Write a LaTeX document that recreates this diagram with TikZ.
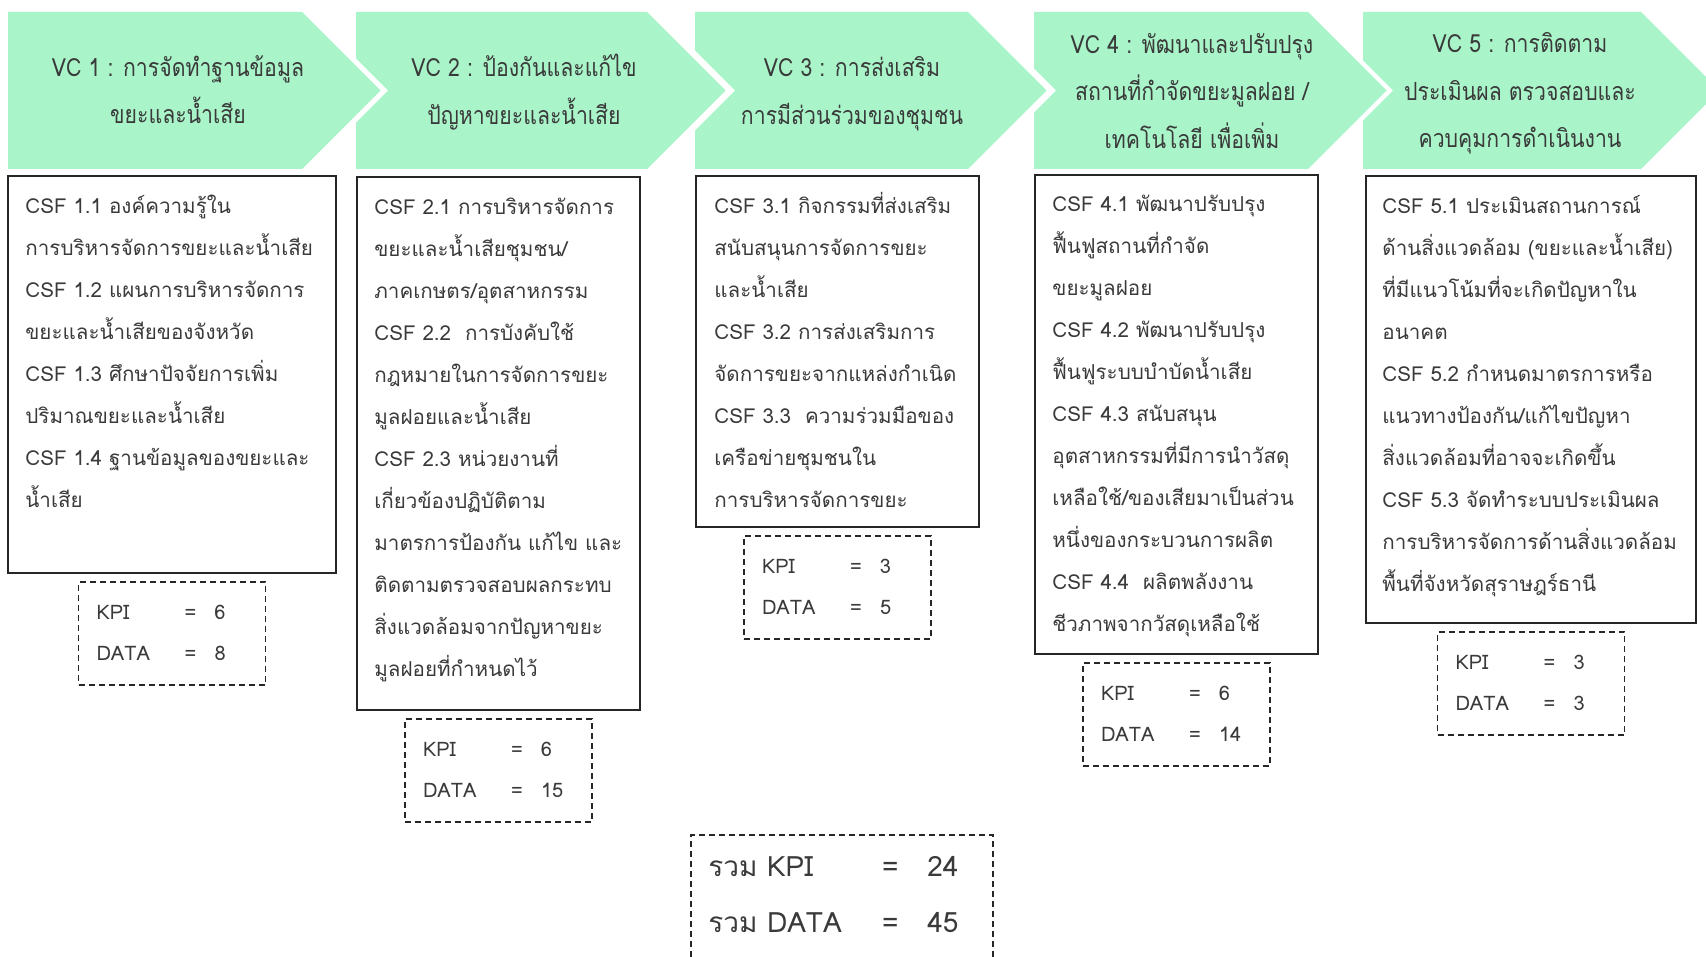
\documentclass[tikz,border=0pt]{standalone}
\usepackage{fontspec}
\setmainfont[Script=Thai]{Loma}
\newfontfamily\vcfont[Script=Thai,FakeStretch=0.85]{Loma}
\usetikzlibrary{positioning}

\definecolor{vcgreen}{HTML}{A9F5C9}
\definecolor{txtgray}{HTML}{3A3A3A}
\definecolor{boxgray}{HTML}{262626}

\newcommand{\kpirow}[2]{\makebox[43pt][l]{#1}\makebox[8pt][c]{=}\hspace{8pt}#2}
\newcommand{\sumrow}[2]{\makebox[86pt][l]{#1}\makebox[10pt][c]{=}\hspace{13.5pt}#2}

\begin{document}
\begin{tikzpicture}[x=0.5pt, y=-0.5pt,
		vcarrow/.style={fill=vcgreen},
		vctext/.style={align=center, text=txtgray, font=\vcfont\fontsize{12.5}{23.75}\selectfont},
		csfbox/.style={draw=boxgray, line width=0.75pt, anchor=north west, inner sep=0pt, outer sep=0pt},
		csftext/.style={align=left, text=txtgray, anchor=north west, inner sep=0pt, font=\fontsize{10.3}{21}\selectfont},
		kpibox/.style={draw=boxgray, line width=0.75pt, dash pattern=on 3pt off 2pt, minimum width=93.5pt, minimum height=51.5pt, inner xsep=9pt, text width=75.5pt, align=left, text=txtgray, font=\fontsize{10}{20.5}\selectfont},
		sumtext/.style={align=left, text=txtgray, inner sep=0pt, font=\fontsize{14}{28}\selectfont}]

					\clip (0,0) rectangle (1706,957);

					\fill[vcarrow] (8,12) -- (302,12) -- (380.5,90.5) -- (302,169) -- (8,169) -- cycle;
					\fill[vcarrow] (356,12) -- (647,12) -- (725.5,90.5) -- (647,169) -- (356,169) -- (356,122.5) -- (388,90.5) -- (356,58.5) -- cycle;
					\fill[vcarrow] (695,12) -- (968,12) -- (1046.5,90.5) -- (968,169) -- (695,169) -- (695,130.5) -- (735,90.5) -- (695,50.5) -- cycle;
					\fill[vcarrow] (1034,12) -- (1308,12) -- (1386.5,90.5) -- (1308,169) -- (1034,169) -- (1034,112.5) -- (1056,90.5) -- (1034,68.5) -- cycle;
					\fill[vcarrow] (1363,12) -- (1641,12) -- (1719.5,90.5) -- (1641,169) -- (1363,169) -- (1363,120.5) -- (1393,90.5) -- (1363,60.5) -- cycle;

					\node[vctext] (vc1) at (178,89.5) {VC 1 : การจัดทำฐานข้อมูล\\ขยะและน้ำเสีย};
					\node[vctext] (vc2) at (524,92) {VC 2 : ป้องกันและแก้ไข\\ปัญหาขยะและน้ำเสีย};
					\node[vctext] (vc3) at (852,93.5) {VC 3 : การส่งเสริม\\การมีส่วนร่วมของชุมชน};
					\node[vctext] (vc4) at (1192,91) {VC 4 : พัฒนาและปรับปรุง\\สถานที่กำจัดขยะมูลฝอย /\\เทคโนโลยี เพื่อเพิ่ม};
					\node[vctext] (vc5) at (1520,93.5) {VC 5 : การติดตาม\\ประเมินผล ตรวจสอบและ\\ควบคุมการดำเนินงาน};

					\node[csfbox, minimum width=164pt, minimum height=198.5pt] (csf1) at (8,176) {};
					\node[csfbox, minimum width=141.5pt, minimum height=266.5pt] (csf2) at (357,177) {};
					\node[csfbox, minimum width=141.5pt, minimum height=175.5pt] (csf3) at (696,176) {};
					\node[csfbox, minimum width=141.5pt, minimum height=239.5pt] (csf4) at (1035,175) {};
					\node[csfbox, minimum width=165pt, minimum height=223.5pt] (csf5) at (1366,176) {};

					\node[csftext] (csf1txt) at (25,183.6) {\strut CSF 1.1 องค์ความรู้ใน\\การบริหารจัดการขยะและน้ำเสีย\\CSF 1.2 แผนการบริหารจัดการ\\ขยะและน้ำเสียของจังหวัด\\CSF 1.3 ศึกษาปัจจัยการเพิ่ม\\ปริมาณขยะและน้ำเสีย\\CSF 1.4 ฐานข้อมูลของขยะและ\\น้ำเสีย};
					\node[csftext] (csf2txt) at (374,184.6) {\strut CSF 2.1 การบริหารจัดการ\\ขยะและน้ำเสียชุมชน/\\ภาคเกษตร/อุตสาหกรรม\\CSF 2.2\ \ การบังคับใช้\\กฎหมายในการจัดการขยะ\\มูลฝอยและน้ำเสีย\\CSF 2.3 หน่วยงานที่\\เกี่ยวข้องปฏิบัติตาม\\มาตรการป้องกัน แก้ไข และ\\ติดตามตรวจสอบผลกระทบ\\สิ่งแวดล้อมจากปัญหาขยะ\\มูลฝอยที่กำหนดไว้};
					\node[csftext] (csf3txt) at (714,183.6) {\strut CSF 3.1 กิจกรรมที่ส่งเสริม\\สนับสนุนการจัดการขยะ\\และน้ำเสีย\\CSF 3.2 การส่งเสริมการ\\จัดการขยะจากแหล่งกำเนิด\\CSF 3.3\ \ ความร่วมมือของ\\เครือข่ายชุมชนใน\\การบริหารจัดการขยะ};
					\node[csftext] (csf4txt) at (1052,181.6) {\strut CSF 4.1 พัฒนาปรับปรุง\\ฟื้นฟูสถานที่กำจัด\\ขยะมูลฝอย\\CSF 4.2 พัฒนาปรับปรุง\\ฟื้นฟูระบบบำบัดน้ำเสีย\\CSF 4.3 สนับสนุน\\อุตสาหกรรมที่มีการนำวัสดุ\\เหลือใช้/ของเสียมาเป็นส่วน\\หนึ่งของกระบวนการผลิต\\CSF 4.4\ \ ผลิตพลังงาน\\ชีวภาพจากวัสดุเหลือใช้};
					\node[csftext] (csf5txt) at (1382,183.6) {\strut CSF 5.1 ประเมินสถานการณ์\\ด้านสิ่งแวดล้อม (ขยะและน้ำเสีย)\\ที่มีแนวโน้มที่จะเกิดปัญหาใน\\อนาคต\\CSF 5.2 กำหนดมาตรการหรือ\\แนวทางป้องกัน/แก้ไขปัญหา\\สิ่งแวดล้อมที่อาจจะเกิดขึ้น\\CSF 5.3 จัดทำระบบประเมินผล\\การบริหารจัดการด้านสิ่งแวดล้อม\\พื้นที่จังหวัดสุราษฎร์ธานี};

					\node[kpibox, below=4pt of csf1] (kpi1) {\kpirow{KPI}{6}\\\kpirow{DATA}{8}};
					\node[kpibox, below=4pt of csf2] (kpi2) {\kpirow{KPI}{6}\\\kpirow{DATA}{15}};
					\node[kpibox, below=4pt of csf3] (kpi3) {\kpirow{KPI}{3}\\\kpirow{DATA}{5}};
					\node[kpibox, below=4pt of csf4] (kpi4) {\kpirow{KPI}{6}\\\kpirow{DATA}{14}};
					\node[kpibox, below=4pt of csf5] (kpi5) {\kpirow{KPI}{3}\\\kpirow{DATA}{3}};

					\node[csfbox, dash pattern=on 3pt off 2pt, minimum width=151pt, minimum height=70pt] (sum) at (691,835) {};
					\node[sumtext, anchor=west] (sumtxt) at (708,895) {\sumrow{รวม KPI}{24}\\\sumrow{รวม DATA}{45}};
				\end{tikzpicture}
\end{document}
